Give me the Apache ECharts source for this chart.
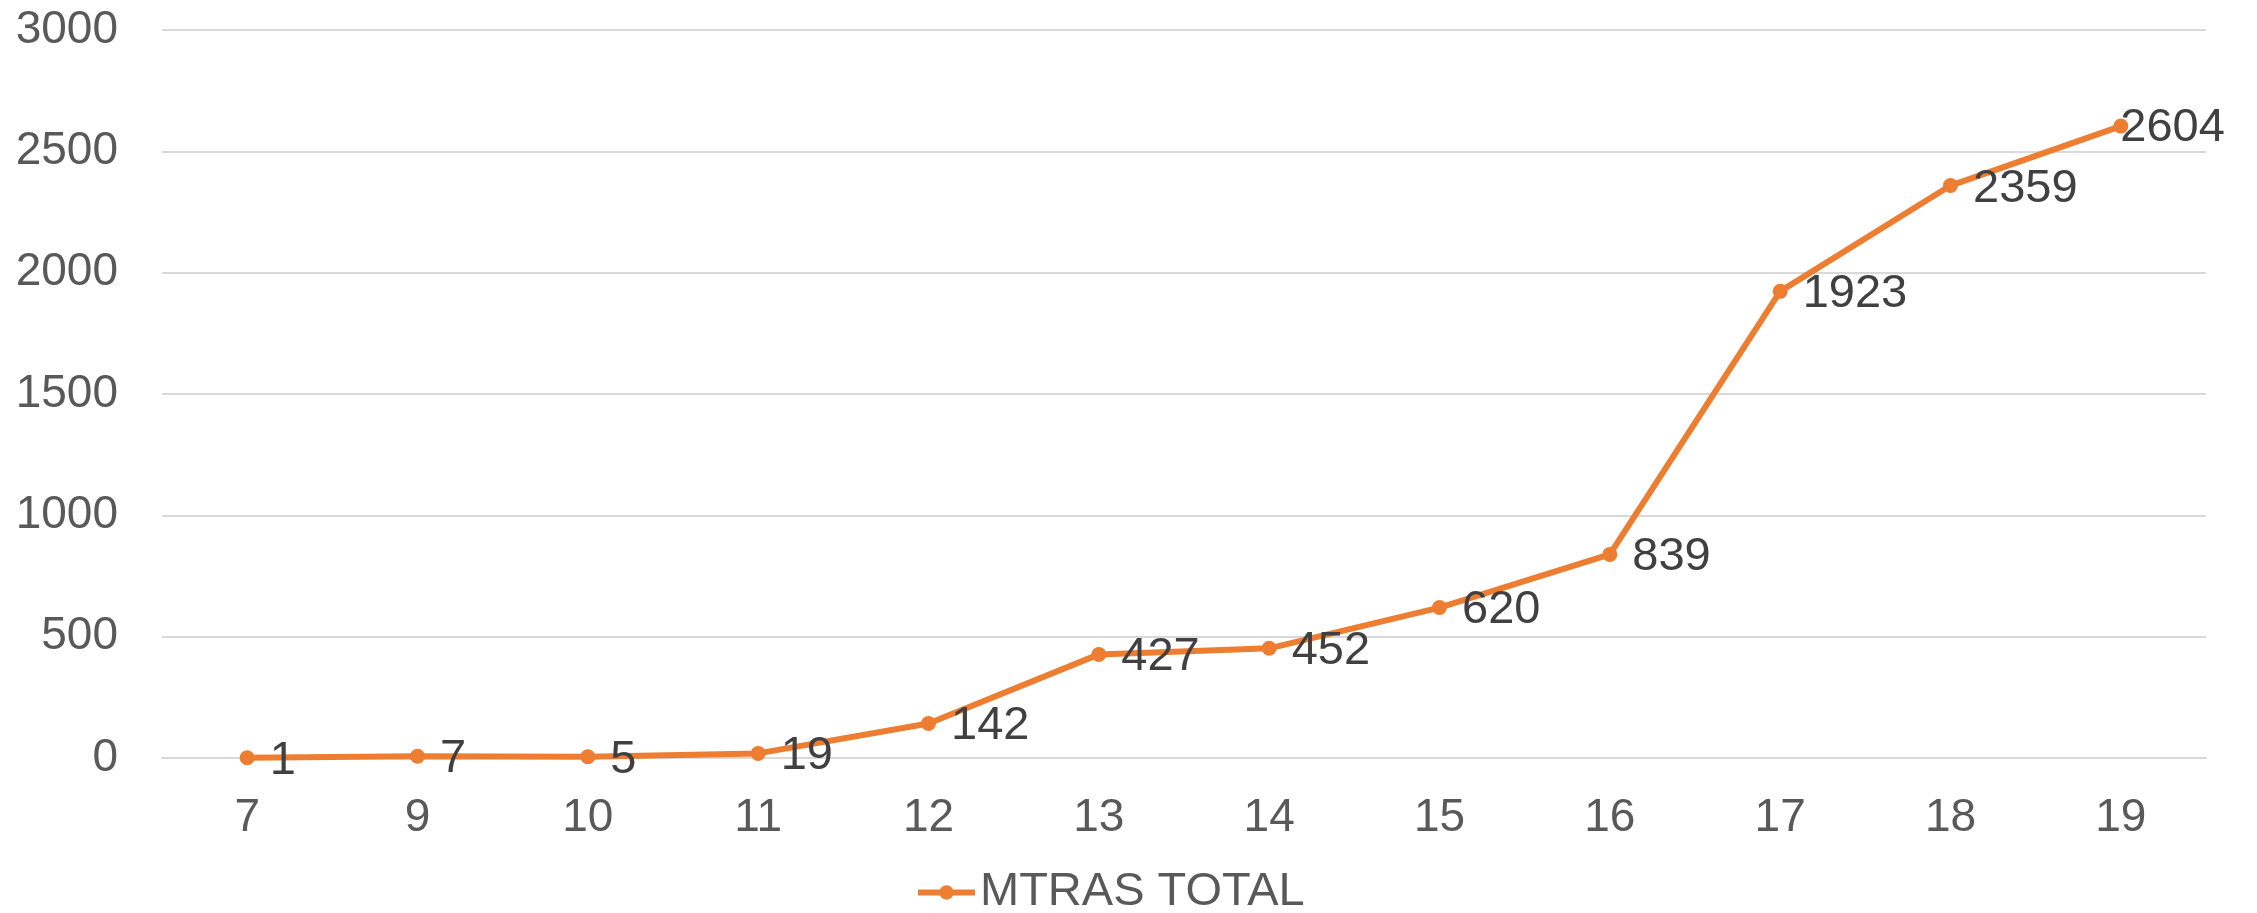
<!DOCTYPE html>
<html>
<head>
<meta charset="utf-8">
<script src="https://cdn.jsdelivr.net/npm/echarts@6/dist/echarts.min.js"></script>
<style>
  html, body { margin: 0; padding: 0; background: #fff; }
  #chart { width: 2257px; height: 913px; }
</style>
</head>
<body>
<div id="chart"></div>
<script>
  const categories = ['7', '9', '10', '11', '12', '13', '14', '15', '16', '17', '18', '19'];
  const totals = [1, 7, 5, 19, 142, 427, 452, 620, 839, 1923, 2359, 2604];
  const seriesName = 'MTRAS TOTAL';

  const FONT = '"Liberation Sans", Arial, sans-serif';
  const ORANGE = '#ED7D31';

  // last label sits on the point (Excel nudges it in from the edge)
  const seriesData = totals.map((v, i) => {
    if (i === totals.length - 1) {
      return { value: v, label: { offset: [-23, 2] } };
    }
    return v;
  });

  const chart = echarts.init(document.getElementById('chart'), null, { renderer: 'canvas' });
  chart.setOption({
    animation: false,
    backgroundColor: '#ffffff',
    grid: { left: 162, right: 51, top: 30, bottom: 155 },
    legend: {
      top: 864,
      left: 910,
      itemWidth: 57,
      itemHeight: 18,
      lineStyle: { width: 6 },
      textStyle: { fontFamily: FONT, fontSize: 47, color: '#595959' },
      data: [seriesName]
    },
    xAxis: {
      type: 'category',
      data: categories,
      boundaryGap: true,
      axisLine: { show: true, lineStyle: { color: '#d9d9d9', width: 2 } },
      axisTick: { show: false },
      axisLabel: { fontFamily: FONT, fontSize: 46, color: '#595959', margin: 37 }
    },
    yAxis: {
      type: 'value',
      min: 0,
      max: 3000,
      interval: 500,
      axisLine: { show: false },
      axisTick: { show: false },
      splitLine: { lineStyle: { color: '#d9d9d9', width: 2 } },
      axisLabel: {
        fontFamily: FONT, fontSize: 46, color: '#595959', margin: 44,
        formatter: (v) => String(v)
      }
    },
    series: [{
      name: seriesName,
      type: 'line',
      data: seriesData,
      symbol: 'circle',
      symbolSize: 15,
      itemStyle: { color: ORANGE },
      lineStyle: { color: ORANGE, width: 6 },
      label: {
        show: true,
        position: 'right',
        distance: 15,
        offset: [0, 3],
        fontFamily: FONT,
        fontSize: 47,
        color: '#404040'
      }
    }]
  });
</script>
</body>
</html>
